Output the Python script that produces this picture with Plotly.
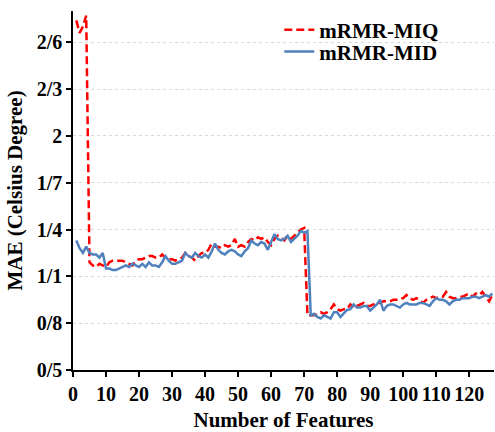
import plotly.graph_objects as go

features = list(range(1, 128))

mae_miq = [
    2.74, 2.66, 2.70, 2.77, 1.19, 1.17, 1.16, 1.18, 1.17, 1.16,
    1.19, 1.20, 1.20, 1.20, 1.20, 1.19, 1.18, 1.17, 1.20, 1.21,
    1.21, 1.22, 1.23, 1.23, 1.22, 1.22, 1.24, 1.22, 1.21, 1.21,
    1.20, 1.21, 1.22, 1.25, 1.23, 1.22, 1.20, 1.23, 1.25, 1.25,
    1.27, 1.31, 1.29, 1.29, 1.28, 1.30, 1.29, 1.30, 1.34, 1.29,
    1.30, 1.29, 1.32, 1.34, 1.33, 1.35, 1.34, 1.35, 1.32, 1.30,
    1.34, 1.36, 1.35, 1.33, 1.36, 1.34, 1.36, 1.38, 1.40, 1.41,
    0.85, 0.85, 0.85, 0.86, 0.87, 0.86, 0.87, 0.89, 0.92, 0.89,
    0.88, 0.89, 0.89, 0.92, 0.90, 0.91, 0.92, 0.93, 0.91, 0.91,
    0.92, 0.93, 0.93, 0.94, 0.94, 0.94, 0.95, 0.95, 0.96, 0.96,
    0.98, 0.96, 0.95, 0.96, 0.95, 0.93, 0.95, 0.96, 0.97, 0.96,
    0.97, 0.97, 1.00, 0.97, 0.96, 0.96, 0.97, 0.97, 0.98, 0.99,
    0.97, 0.99, 0.98, 1.00, 0.97, 0.94, 0.98,
]

mae_mid = [
    1.33, 1.28, 1.25, 1.29, 1.25, 1.24, 1.24, 1.22, 1.25, 1.15,
    1.15, 1.14, 1.14, 1.15, 1.16, 1.17, 1.16, 1.18, 1.17, 1.16,
    1.18, 1.16, 1.19, 1.17, 1.17, 1.16, 1.19, 1.23, 1.20, 1.18,
    1.18, 1.19, 1.20, 1.25, 1.23, 1.22, 1.25, 1.23, 1.22, 1.24,
    1.22, 1.26, 1.31, 1.27, 1.25, 1.24, 1.26, 1.27, 1.26, 1.24,
    1.23, 1.26, 1.28, 1.33, 1.31, 1.30, 1.32, 1.31, 1.27, 1.32,
    1.37, 1.34, 1.33, 1.34, 1.36, 1.32, 1.34, 1.36, 1.39, 1.38,
    1.39, 0.85, 0.86, 0.84, 0.83, 0.85, 0.84, 0.83, 0.87, 0.87,
    0.84, 0.86, 0.885, 0.89, 0.92, 0.90, 0.90, 0.91, 0.91, 0.88,
    0.90, 0.92, 0.95, 0.88, 0.91, 0.92, 0.92, 0.91, 0.90, 0.92,
    0.93, 0.92, 0.92, 0.92, 0.93, 0.93, 0.92, 0.91, 0.94, 0.96,
    0.95, 0.95, 0.94, 0.92, 0.94, 0.95, 0.95, 0.96, 0.96, 0.96,
    0.97, 0.97, 0.96, 0.97, 0.98, 0.97, 0.99,
]

x_ticks = list(range(0, 121, 10))
y_ticks = [0.5, 0.8, 1.1, 1.4, 1.7, 2.0, 2.3, 2.6]
y_tick_labels = ["0/5", "0/8", "1/1", "1/4", "1/7", "2", "2/3", "2/6"]

FONT = "Liberation Serif"

fig = go.Figure()
fig.add_trace(go.Scatter(
    x=features, y=mae_miq, mode="lines", name="mRMR-MIQ", legend="legend",
    line=dict(color="#FF0000", width=2.5, dash="8px,4px"),
))
fig.add_trace(go.Scatter(
    x=features, y=mae_mid, mode="lines", name="mRMR-MID", legend="legend2",
    line=dict(color="#4F81BD", width=2.5),
))

legend_common = dict(
    x=0.49, xanchor="left", yanchor="middle",
    bgcolor="rgba(0,0,0,0)", font=dict(size=21, family=FONT, weight="bold"),
    itemwidth=30,
)

fig.update_layout(
    width=495, height=432,
    margin=dict(l=73, r=1, t=11, b=62),
    paper_bgcolor="white", plot_bgcolor="white",
    font=dict(family=FONT, color="black", size=20, weight="bold"),
    showlegend=True,
    legend=dict(y=0.947, **legend_common),
    legend2=dict(y=0.886, **legend_common),
    xaxis=dict(
        range=[0, 127.5], tickvals=x_ticks, automargin=False,
        showline=True, linecolor="black", linewidth=1.5,
        ticks="outside", ticklen=5, tickcolor="black", tickwidth=1.5,
        showgrid=False, zeroline=False,
        tickfont=dict(family=FONT, size=20, weight="bold"),
        title=dict(text="Number of Features", font=dict(family=FONT, size=21, weight="bold"), standoff=10),
    ),
    yaxis=dict(
        range=[0.5, 2.8], tickvals=y_ticks, ticktext=y_tick_labels, automargin=False,
        showline=True, linecolor="black", linewidth=1.5,
        ticks="outside", ticklen=5, tickcolor="black", tickwidth=1.5,
        showgrid=True, gridcolor="#d9d9d9", griddash="dot", gridwidth=1,
        zeroline=False,
        tickfont=dict(family=FONT, size=20, weight="bold"),
        title=dict(text="MAE (Celsius Degree)", font=dict(family=FONT, size=21, weight="bold"), standoff=8),
    ),
)

fig.write_html(
    "out.html",
    config={"displayModeBar": False},
    post_script="document.body.style.margin='0';document.body.style.overflow='hidden';",
)
